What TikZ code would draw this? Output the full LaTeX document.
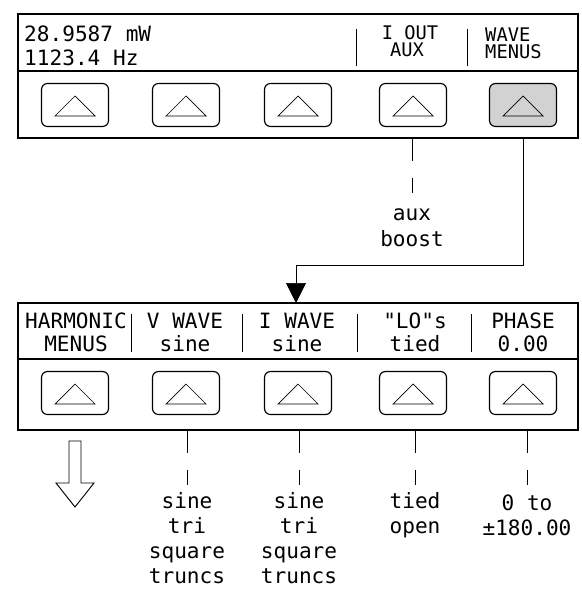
\documentclass[tikz,border=0pt]{standalone}
\usepackage{fontspec}
\setmonofont{DejaVu Sans Mono}
\usetikzlibrary{arrows.meta}
\tikzset{
	lcd/.style={font=\ttfamily\fontsize{18}{18}\selectfont, inner sep=0pt, anchor=base},
	lcdsmall/.style={lcd, font=\ttfamily\fontsize{16}{16}\selectfont},
	softkey/.style={draw, line width=1pt, rounded corners=0.18cm, minimum width=2.01cm, minimum height=1.29cm},
	lead/.style={line width=0.6pt, dash pattern=on 0.69cm off 0.51cm on 0.45cm off 4cm},
}
\begin{document}
\begin{tikzpicture}[x=0.03cm, y=-0.03cm]
	\useasboundingbox (0,0) rectangle (581,597);
	\draw[line width=1.1pt] (18,14) rectangle (578,138);
	\draw[line width=1.1pt] (18,71)--(578,71);
	\coordinate (topbase) at (0,138);
	\node[lcd, anchor=base west] (power) at (24,42) {28.9587 mW};
	\node[lcd, anchor=base west] (freq) at (24,66) {1123.4 Hz};
	\node[lcdsmall] (iout) at (410,40) {I OUT};
	\node[lcdsmall] (auxkey) at (407,57) {AUX};
	\node[lcdsmall, anchor=base west] (wave) at (485,42) {WAVE};
	\node[lcdsmall, anchor=base west] (menus) at (485,59) {MENUS};
	\foreach \x in {356, 467} \draw[line width=0.8pt] (\x,29)--(\x,66);
	\foreach \x [count=\i] in {75, 186, 298, 413} \node[softkey] (a\i) at (\x,105) {};
	\node[softkey, fill=gray!35] (a5) at (523,105) {};
	
	\node[lcd] (auxlbl) at (412,220) {aux};
	\node[lcd] (boostlbl) at (412,246) {boost};
	\draw[lead] (auxlbl |- topbase) -- (auxlbl);
	
	\coordinate (bend) at (296,265);
	\coordinate (entry) at (296,303);
	\draw[line width=0.6pt, -{Triangle[length=0.6cm, width=0.6cm]}] (a5 |- topbase) -- (a5 |- bend) -| (entry);
	
	\draw[line width=1.1pt] (18,303) rectangle (578,430);
	\draw[line width=1.1pt] (18,359)--(578,359);
	\coordinate (lowbase) at (0,430);
	\foreach \x in {131, 242, 357, 471} \draw[line width=0.8pt] (\x,314)--(\x,352);
	\foreach \x/\up/\down [count=\i] in {76/HARMONIC/MENUS, 185/V WAVE/sine, 297/I WAVE/sine, 415/"LO"s/tied, 523/PHASE/0.00} {
		\node[lcd] (h\i) at (\x,328) {\up};
		\node[lcd] (s\i) at (\x,351) {\down};
	}
	\foreach \x [count=\i] in {75, 186, 298, 413, 523} \node[softkey] (b\i) at (\x,393) {};
	\foreach \k in {a1,a2,a3,a4,a5,b1,b2,b3,b4,b5} \draw[line width=0.6pt] ([shift={(-20,11)}]\k.center)--([shift={(20,11)}]\k.center)--([shift={(0,-9)}]\k.center)--cycle;
	
	\draw[line width=0.8pt] (69,441)--(81,441)--(81,483)--(94,483)--(75,507)--(56,483)--(69,483)--cycle;
	\foreach \w [count=\j] in {sine, tri, square, truncs} {
		\node[lcd] (vo\j) at (187,{483+25*\j}) {\w};
		\node[lcd] (io\j) at (299,{483+25*\j}) {\w};
	}
	\node[lcd] (lo1) at (415,508) {tied};
	\node[lcd] (lo2) at (415,533) {open};
	\node[lcd] (ph1) at (527,510) {0 to};
	\node[lcd] (ph2) at (527,535) {±180.00};
	\foreach \n in {vo1, io1, lo1, ph1} \draw[lead] (\n |- lowbase) -- (\n);
\end{tikzpicture}
\end{document}
